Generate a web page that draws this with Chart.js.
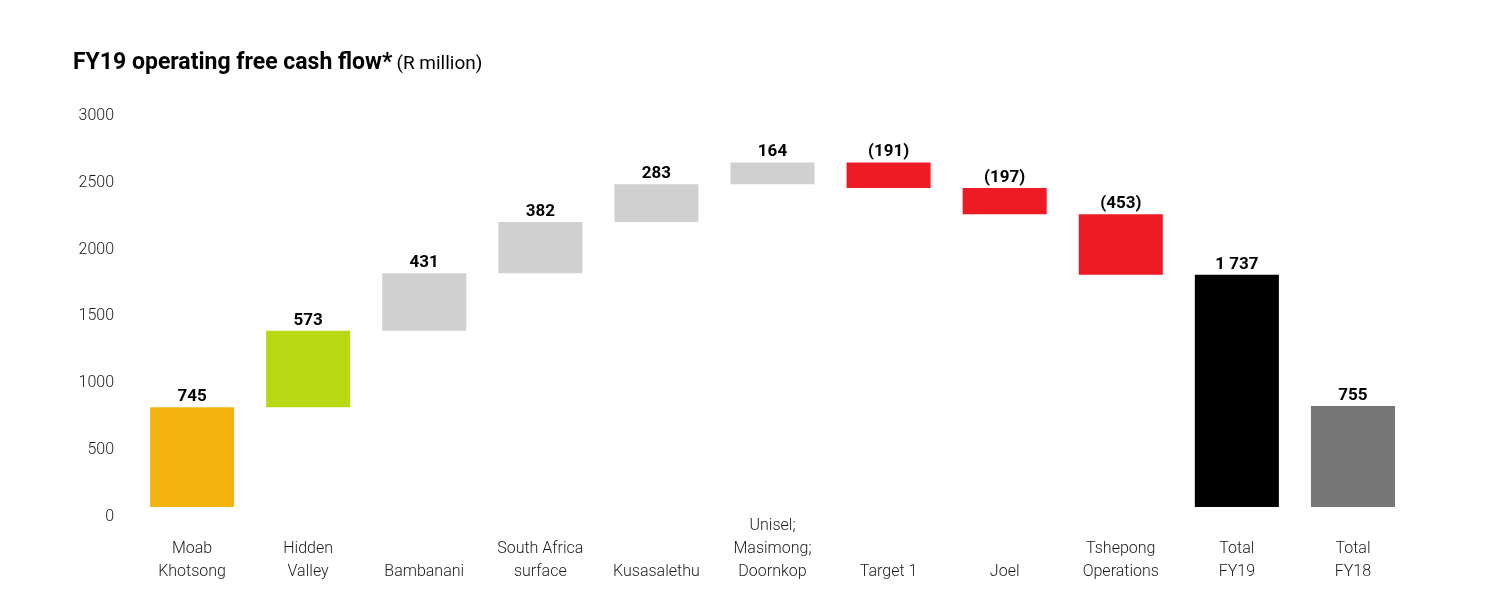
<!DOCTYPE html>
<html>
<head>
<meta charset="utf-8">
<script src="https://cdn.jsdelivr.net/npm/chart.js@4.4.1/dist/chart.umd.min.js"></script>
<style>
  html, body { margin: 0; padding: 0; background: #fff; }
  #wrap { position: relative; width: 1488px; height: 591px; }
  #title { position: absolute; left: 73px; top: 48px; font-family: Roboto, sans-serif; color: #000; white-space: nowrap; }
  #title b { font-weight: 700; font-size: 23px; }
  #title span { font-weight: 400; font-size: 19px; }
</style>
</head>
<body>
<div id="wrap">
  <div id="title"><b>FY19 operating free cash flow*</b> <span>(R million)</span></div>
  <canvas id="chart" width="1488" height="591"></canvas>
</div>
<script>
const categories = [
    ['', 'Moab', 'Khotsong'],
    ['', 'Hidden', 'Valley'],
    ['', '', 'Bambanani'],
    ['', 'South Africa', 'surface'],
    ['', '', 'Kusasalethu'],
    ['Unisel;', 'Masimong;', 'Doornkop'],
    ['', '', 'Target 1'],
    ['', '', 'Joel'],
    ['', 'Tshepong', 'Operations'],
    ['', 'Total', 'FY19'],
    ['', 'Total', 'FY18']
];
// change per operation, then the two totals
const changes = [745, 573, 431, 382, 283, 164, -191, -197, -453];
const totals = [1737, 755];
const barColors = ['#f4b30f', '#bad915', '#d0d0d0', '#d0d0d0', '#d0d0d0', '#d0d0d0',
    '#ed1c24', '#ed1c24', '#ed1c24', '#000000', '#777777'];
const yTicks = [0, 500, 1000, 1500, 2000, 2500, 3000];

// floating bars: running total for the steps, from zero for the totals
const ranges = [];
let run = 0;
changes.forEach(c => { ranges.push([run, run + c]); run += c; });
totals.forEach(t => ranges.push([0, t]));
const labelValues = changes.concat(totals);

const fmt = v => {
    const s = Math.abs(v).toString().replace(/\B(?=(\d{3})+(?!\d))/g, ' ');
    return v < 0 ? '(' + s + ')' : s;
};

const valueLabels = {
    id: 'valueLabels',
    afterDatasetsDraw(chart) {
        const ctx = chart.ctx;
        const meta = chart.getDatasetMeta(0);
        ctx.save();
        ctx.font = 'bold 17px Roboto, sans-serif';
        ctx.fillStyle = '#000';
        ctx.textAlign = 'center';
        ctx.textBaseline = 'bottom';
        meta.data.forEach((bar, i) => {
            const top = Math.min(bar.y, bar.base);
            ctx.fillText(fmt(labelValues[i]), bar.x, top - 2);
        });
        ctx.restore();
    }
};

new Chart(document.getElementById('chart'), {
    type: 'bar',
    data: {
        labels: categories,
        datasets: [{
            data: ranges,
            backgroundColor: barColors,
            borderWidth: 0,
            barPercentage: 0.724,
            categoryPercentage: 1
        }]
    },
    options: {
        responsive: false,
        animation: false,
        layout: { padding: { top: 106, right: 77, bottom: 7, left: 0 } },
        plugins: { legend: { display: false }, tooltip: { enabled: false } },
        scales: {
            x: {
                grid: { display: false },
                border: { display: false },
                ticks: {
                    padding: 0,
                    color: '#1a1a1a',
                    autoSkip: false,
                    maxRotation: 0,
                    font: { family: 'Roboto, sans-serif', size: 16, weight: 300, lineHeight: 1.44 }
                }
            },
            y: {
                display: false,
                min: 0,
                max: 3000
            },
            // tick labels sit a little below their values in the original
            yLabels: {
                position: 'left',
                min: 75,
                max: 3075,
                grid: { display: false },
                border: { display: false },
                afterBuildTicks: axis => { axis.ticks = yTicks.map(v => ({ value: v })); },
                afterFit: axis => { axis.width = 134; },
                ticks: {
                    padding: 12,
                    color: '#1a1a1a',
                    callback: v => String(v),
                    font: { family: 'Roboto, sans-serif', size: 16, weight: 300 }
                }
            }
        }
    },
    plugins: [valueLabels]
});
</script>
</body>
</html>
